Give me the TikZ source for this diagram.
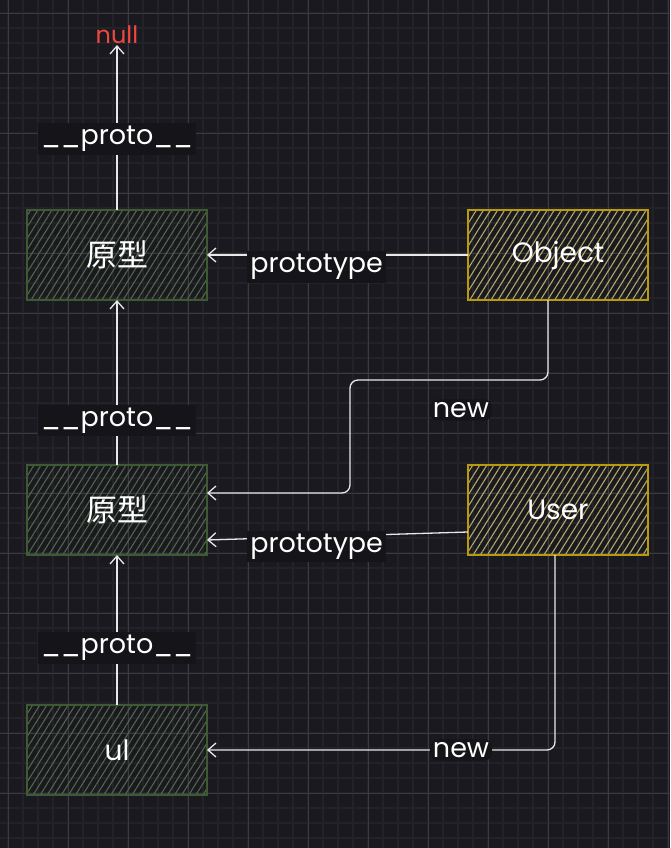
\documentclass[tikz,border=0pt]{standalone}
\usepackage{fontspec}
\setmainfont{Poppins}
\newfontfamily\cjk{Noto Sans CJK SC}
\usetikzlibrary{arrows.meta, positioning, patterns.meta}

\definecolor{canvas}{HTML}{1A191F}
\definecolor{labelbg}{HTML}{151419}
\definecolor{minorline}{HTML}{232228}
\definecolor{majorline}{HTML}{3B3A40}
\definecolor{linecol}{HTML}{E8E8E8}
\definecolor{greenline}{HTML}{3E5A32}
\definecolor{greenhatch}{HTML}{506848}
\definecolor{yellowline}{HTML}{B89A0A}
\definecolor{yellowhatch}{HTML}{B0AA66}
\definecolor{nullred}{HTML}{F0483E}

\tikzset{
  box/.style={draw, line width=1.4pt, minimum width=180pt, minimum height=90pt,
    inner sep=0pt, outer sep=0pt, text=white, font=\fontsize{28}{32}\selectfont},
  greenbox/.style={box, draw=greenline,
    pattern={Lines[angle=58, distance=6pt, line width=1.1pt]}, pattern color=greenhatch},
  yellowbox/.style={box, draw=yellowline,
    pattern={Lines[angle=58, distance=6pt, line width=1.1pt]}, pattern color=yellowhatch},
  lbl/.style={fill=labelbg, text=white, inner sep=3pt, font=\fontsize{27}{30}\selectfont},
  arr/.style={draw=linecol, line width=1.3pt,
    -{Straight Barb[length=8pt, width=14pt, line width=1.3pt]}}
}

\begin{document}
\begin{tikzpicture}[x=1pt, y=-1pt, node distance=165pt]
    % Background and grid
    \fill[canvas] (0,0) rectangle (670,848);
    \useasboundingbox (0,0) rectangle (670,848);
    \draw[minorline, line width=1.2pt, step=15pt, xshift=8pt, yshift=-13pt] (-8pt,13pt) grid (662pt,-835pt);
    \draw[majorline, line width=0.8pt, step=60pt, xshift=8pt, yshift=-13pt] (-8pt,13pt) grid (662pt,-835pt);

    % Nodes
    \node (proto1) [greenbox] at (117,255) {\cjk\fontsize{31}{34}\selectfont 原型};
    \node (proto2) [greenbox, below=of proto1] {\cjk\fontsize{31}{34}\selectfont 原型};
    \node (ul) [greenbox, below=150pt of proto2] {ul};
    \node (obj) [yellowbox, right=261pt of proto1] {Object};
    \node (user) [yellowbox, right=261pt of proto2] {User};
    \node (nullnode) [above=of proto1, inner sep=1pt, outer sep=0pt, text=nullred,
      font=\fontsize{24}{26}\selectfont] {null};

    % Arrows
    \draw[arr] (proto1) -- node[lbl, pos=0.43] {\_\_proto\_\_} (nullnode);
    \draw[arr] (proto2) -- node[lbl, pos=0.27] {\_\_proto\_\_} (proto1);
    \draw[arr] (ul) -- node[lbl, pos=0.38] {\_\_proto\_\_} (proto2);
    \draw[arr] (obj) -- node[lbl, pos=0.58, yshift=-12pt] {prototype} (proto1);
    \draw[arr] ([yshift=-22pt]user.west) -- node[lbl, pos=0.58, yshift=-10pt] {prototype} ([yshift=-30pt]proto2.east);
    \draw[arr, rounded corners=8pt] ([xshift=-10pt]obj.south) |- node[lbl, pos=0.72, yshift=-30pt] {new} (350,380)
      |- ([yshift=17pt]proto2.east);
    \draw[arr, rounded corners=8pt] ([xshift=-3pt]user.south) |- node[lbl, pos=0.635] {new} (ul.east);
\end{tikzpicture}
\end{document}
